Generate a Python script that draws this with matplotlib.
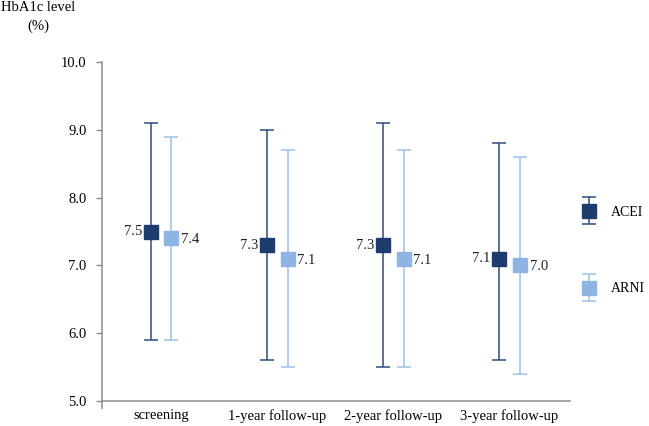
import matplotlib
matplotlib.use("Agg")
import matplotlib.pyplot as plt
import numpy as np
from matplotlib.container import ErrorbarContainer
from matplotlib.legend_handler import HandlerErrorbar

plt.rcParams['font.family'] = ['Liberation Serif', 'DejaVu Serif']

categories = ["screening", "1-year follow-up", "2-year follow-up", "3-year follow-up"]
acei_mean = [7.5, 7.3, 7.3, 7.1]
acei_upper = [9.1, 9.0, 9.1, 8.8]
acei_lower = [5.9, 5.6, 5.5, 5.6]
arni_mean = [7.4, 7.1, 7.1, 7.0]
arni_upper = [8.9, 8.7, 8.7, 8.6]
arni_lower = [5.9, 5.5, 5.5, 5.4]
yticks = [5.0, 6.0, 7.0, 8.0, 9.0, 10.0]

acei_color = "#1F3C6E"
acei_line = "#2E4D7F"
arni_color = "#8DB4E2"
arni_line = "#9EC0E8"
FS = 10.5

fig = plt.figure(figsize=(6.49, 4.26), dpi=100)
ax = fig.add_axes([102/649, 1-401/426, (570-102)/649, (401-62)/426])

x = np.arange(len(categories))
off = 0.088

def draw(xpos, mean, lo, hi, mcol, lcol, label, side):
    mean = np.array(mean); lo = np.array(lo); hi = np.array(hi)
    yerr = np.vstack([mean - lo, hi - mean])
    c = ax.errorbar(xpos, mean, yerr=yerr, fmt='s', color=lcol, mfc=mcol, mec=mcol,
                    markersize=9.5, capsize=4.7, elinewidth=1.1, capthick=1.1,
                    label=label, zorder=3)
    for xi, m in zip(xpos, mean):
        if side == 'left':
            ax.annotate(f"{m:.1f}", (xi, m), xytext=(-6.5, 0), textcoords='offset points',
                        ha='right', va='center', fontsize=FS, color='#222222')
        else:
            ax.annotate(f"{m:.1f}", (xi, m), xytext=(7.0, -1), textcoords='offset points',
                        ha='left', va='center', fontsize=FS, color='#222222')
    return c

h1 = draw(x - off, acei_mean, acei_lower, acei_upper, acei_color, acei_line, "ACEI", 'left')
h2 = draw(x + off, arni_mean, arni_lower, arni_upper, arni_color, arni_line, "ARNI", 'right')

ax.set_xlim(-0.51, 3.52)
ax.set_ylim(5.0, 10.0)
ax.set_yticks(yticks)
ax.set_yticklabels([f"{v:.1f}" for v in yticks], fontsize=FS)
ax.set_xticks(x)
ax.set_xticklabels(categories, fontsize=FS)
ax.set_xticks([-0.51], minor=True)
ax.tick_params(axis='x', which='major', length=0, pad=6)
ax.tick_params(axis='x', which='minor', length=6, width=1.1, color='#8C8C8C')
ax.tick_params(axis='y', length=4, width=1, color='#8C8C8C', pad=7)
for s in ['top', 'right']:
    ax.spines[s].set_visible(False)
for s in ['left', 'bottom']:
    ax.spines[s].set_color('#8C8C8C')
    ax.spines[s].set_linewidth(1.1)

leg = ax.legend(handles=[h1, h2], loc='upper left', bbox_to_anchor=(1.011, 0.593),
                frameon=False, fontsize=10, labelspacing=4.6, handlelength=1.2,
                handletextpad=1.0, borderaxespad=0.0,
                handler_map={ErrorbarContainer: HandlerErrorbar(yerr_size=0.95)})

fig.text(38/649, 1-17/426, "HbA1c level\n(%)", ha='center', va='center', fontsize=FS,
         linespacing=1.55)

fig.savefig("out.png", dpi=100)
